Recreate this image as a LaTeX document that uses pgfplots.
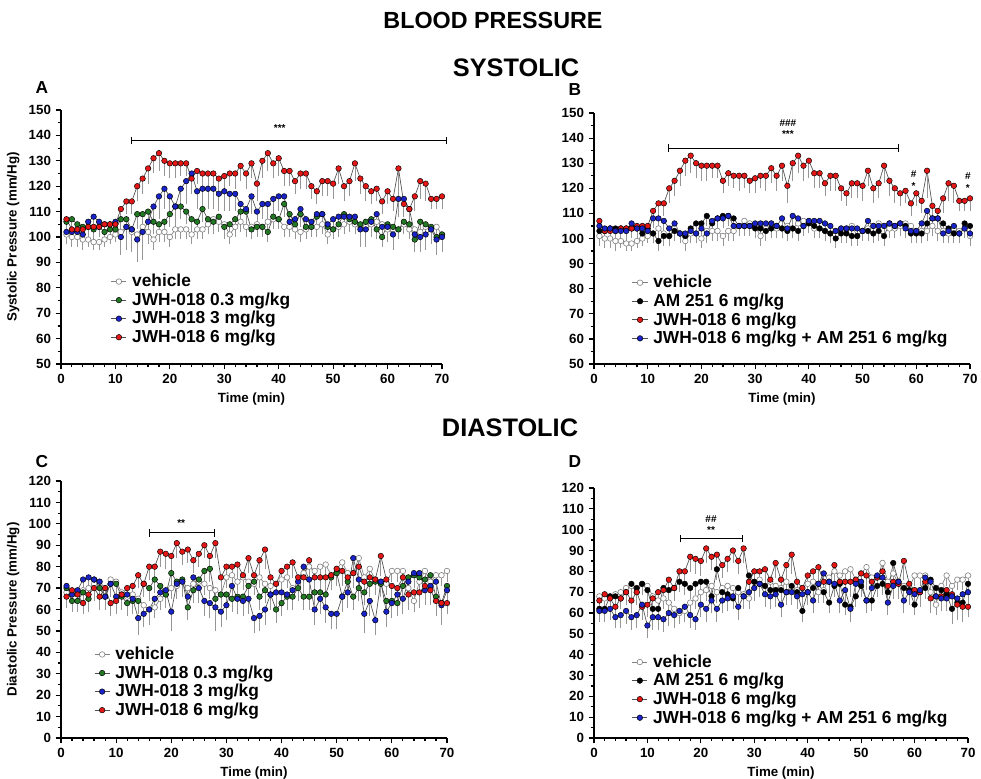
\documentclass[border=0pt]{standalone}
\usepackage{fontspec}
\setmainfont{Liberation Sans}
\usepackage{pgfplots}
\usepackage{pgfplotstable}
\pgfplotsset{compat=1.18}

% systolic: vehicle, JWH-018 0.3 / 3 / 6 mg/kg (mean, SEM)
\pgfplotstableread{
t v ev g eg b eb r er
1 101 3 106 3 102 4 107 4
2 100 3 107 3 102 4 103 3
3 100 3 105 3 102 3 103 3
4 99 3 104 4 101 5 103 3
5 99 2 104 3 106 3 104 3
6 98 2 103 3 108 3 104 3
7 98 2 104 3 106 3 104 3
8 99 2 102 3 105 3 105 3
9 100 2 103 3 105 3 105 3
10 101 2 103 3 106 4 105 3
11 102 3 107 4 100 6 111 4
12 104 3 107 4 104 8 114 4
13 102 3 103 4 103 8 114 4
14 101 3 109 5 99 8 120 5
15 104 3 109 5 102 10 123 5
16 102 3 110 5 106 8 127 5
17 99 3 106 4 112 8 131 5
18 102 3 105 4 116 8 133 6
19 102 3 106 4 119 7 130 5
20 100 3 109 4 116 8 129 5
21 103 3 112 4 112 7 129 5
22 103 3 112 4 119 6 129 4
23 103 3 110 4 122 8 129 4
24 101 3 107 4 125 7 123 4
25 103 3 106 4 118 6 126 4
26 103 3 111 4 119 7 125 4
27 105 3 107 4 119 7 125 5
28 107 3 106 4 119 7 125 4
29 106 3 108 4 117 6 123 4
30 105 3 104 4 118 7 124 5
31 101 3 105 4 117 6 125 4
32 104 3 107 4 117 6 125 5
33 106 3 110 4 113 5 128 5
34 104 3 110 4 111 5 125 5
35 104 3 103 3 116 6 129 5
36 105 3 104 3 110 5 121 6
37 104 3 104 3 113 5 130 6
38 106 3 102 3 113 5 133 6
39 107 3 108 3 115 5 129 5
40 107 3 107 3 116 5 131 6
41 104 3 113 4 116 5 126 5
42 104 3 109 4 106 4 126 5
43 103 3 105 3 107 4 122 4
44 102 3 109 4 111 5 125 5
45 103 3 104 3 107 4 125 5
46 104 3 104 3 106 4 120 4
47 104 3 108 3 109 4 118 4
48 105 3 109 3 109 4 122 5
49 101 3 104 3 105 4 122 5
50 103 3 103 3 107 4 121 5
51 104 3 105 3 108 4 127 5
52 105 3 109 3 108 4 120 5
53 106 3 107 3 108 4 122 5
54 105 3 106 3 108 4 129 6
55 104 3 105 3 103 6 123 5
56 104 3 106 3 103 6 120 5
57 105 3 107 3 106 5 118 4
58 106 3 103 3 109 5 119 4
59 105 3 100 3 104 5 114 4
60 103 3 105 3 104 5 118 4
61 103 3 104 3 101 5 115 4
62 103 3 103 3 115 6 127 10
63 105 3 106 4 115 6 113 4
64 103 3 105 4 111 5 111 4
65 103 3 99 4 101 5 116 5
66 102 3 106 4 100 5 122 6
67 104 3 105 4 101 5 121 6
68 103 3 104 4 103 5 115 3
69 104 3 100 4 99 5 115 3
70 101 3 101 4 100 5 116 4
}\sysA

% systolic: AM 251 alone, JWH-018 + AM 251
\pgfplotstableread{
t k ek c ec
1 103 3 105 3
2 103 3 104 3
3 104 3 104 3
4 104 3 103 3
5 104 3 103 3
6 104 3 103 3
7 104 3 106 3
8 104 3 104 3
9 102 3 104 3
10 104 3 103 3
11 102 3 108 3
12 99 3 108 3
13 101 3 107 3
14 101 3 104 3
15 103 3 106 3
16 102 3 102 3
17 101 4 102 4
18 104 3 103 3
19 106 3 102 3
20 106 3 104 3
21 109 3 102 3
22 106 3 107 3
23 108 3 108 3
24 109 3 108 3
25 109 3 109 3
26 108 3 105 3
27 105 3 105 3
28 105 3 105 3
29 105 3 105 3
30 104 3 106 3
31 104 3 106 3
32 103 3 106 3
33 104 3 106 3
34 105 3 105 3
35 104 3 108 3
36 103 3 104 3
37 104 3 109 3
38 103 3 108 3
39 105 3 105 3
40 106 3 107 3
41 105 3 107 3
42 104 3 107 3
43 103 3 106 3
44 102 3 105 3
45 100 3 103 3
46 102 3 104 3
47 102 3 104 3
48 101 3 104 3
49 101 3 104 3
50 103 3 103 3
51 103 3 107 3
52 102 3 105 3
53 103 3 105 3
54 101 3 105 3
55 106 3 106 3
56 105 3 105 3
57 106 3 106 3
58 105 3 104 3
59 102 3 103 3
60 102 3 103 3
61 102 3 106 4
62 106 3 111 4
63 108 3 108 4
64 108 3 108 3
65 106 3 102 3
66 104 3 103 3
67 102 3 105 3
68 102 3 102 3
69 106 3 104 3
70 105 3 102 3
}\sysB

% diastolic: vehicle, JWH-018 0.3 / 3 / 6 mg/kg
\pgfplotstableread{
t v ev g eg b eb r er
1 68 4 70 5 71 4 66 4
2 67 4 64 4 67 4 69 4
3 68 4 64 4 69 4 67 4
4 69 4 68 4 74 5 63 4
5 70 4 65 5 75 5 67 4
6 72 4 74 5 74 5 70 5
7 73 4 70 5 73 5 66 5
8 70 4 66 5 66 5 70 5
9 74 4 72 5 72 5 63 5
10 73 4 72 5 66 6 64 5
11 68 4 66 5 67 6 67 5
12 66 4 63 5 67 6 70 5
13 67 4 64 5 65 6 71 5
14 65 4 64 5 56 7 76 5
15 62 4 72 5 58 5 72 5
16 60 4 70 5 60 6 80 5
17 61 4 74 5 65 6 80 6
18 65 4 71 5 68 7 87 6
19 67 4 67 5 69 6 86 6
20 70 4 77 5 59 8 85 6
21 71 4 73 5 72 6 91 6
22 73 4 74 5 73 6 87 5
23 70 4 61 5 66 6 88 5
24 72 4 69 5 75 6 83 5
25 73 4 74 5 70 6 86 5
26 72 4 78 5 64 6 90 5
27 70 4 79 5 63 6 85 5
28 69 4 65 5 61 10 91 6
29 67 4 67 5 59 6 75 6
30 75 4 67 5 62 6 80 6
31 76 4 65 5 71 7 80 6
32 73 4 66 5 65 6 81 6
33 75 4 66 5 64 6 76 6
34 73 4 71 5 65 6 84 6
35 72 4 73 5 56 6 76 6
36 75 4 66 5 57 6 83 6
37 72 4 69 5 60 6 88 8
38 71 4 67 5 67 6 75 6
39 72 4 60 5 68 6 72 6
40 74 4 63 5 68 6 78 6
41 75 4 66 5 67 6 80 6
42 70 4 66 5 69 6 82 6
43 71 4 70 5 73 6 75 6
44 77 4 66 5 80 6 75 6
45 80 4 66 5 74 6 83 6
46 78 4 68 5 60 6 75 6
47 80 4 68 5 65 6 75 6
48 81 4 67 5 61 6 75 6
49 76 4 75 5 58 6 76 6
50 79 4 77 5 58 6 79 6
51 82 4 66 5 66 6 78 6
52 77 4 73 5 68 6 75 6
53 77 4 66 5 84 6 77 6
54 84 4 70 5 74 6 80 6
55 75 4 68 5 58 8 73 6
56 79 4 72 5 64 6 75 6
57 74 4 73 5 55 6 74 6
58 73 4 72 5 73 6 85 8
59 72 4 64 5 59 6 74 6
60 78 4 64 5 63 6 71 6
61 78 4 63 5 67 6 70 6
62 78 4 71 5 65 6 75 6
63 70 4 75 5 73 6 67 6
64 64 4 76 5 77 6 68 6
65 73 4 75 5 77 6 68 6
66 78 4 74 5 69 6 71 6
67 73 4 76 5 71 6 69 6
68 76 4 66 5 73 6 64 6
69 76 4 63 5 62 8 63 6
70 78 4 71 5 69 6 63 4
}\diaC

% diastolic: AM 251 alone, JWH-018 + AM 251
\pgfplotstableread{
t k ek c ec
1 62 4 61 4
2 62 4 61 4
3 68 4 62 4
4 68 4 58 4
5 67 4 59 5
6 70 4 61 5
7 74 4 58 5
8 72 4 59 5
9 74 4 64 5
10 71 4 54 5
11 62 4 58 5
12 62 4 58 5
13 72 4 57 5
14 71 4 60 5
15 72 4 59 5
16 75 4 61 5
17 74 4 63 5
18 72 4 59 5
19 74 4 57 4
20 75 4 64 5
21 75 4 62 5
22 68 4 66 5
23 81 4 62 5
24 70 4 66 5
25 69 4 67 5
26 67 4 68 5
27 72 4 63 5
28 68 4 68 5
29 78 4 70 5
30 75 4 72 5
31 74 4 74 5
32 73 4 69 5
33 71 4 68 5
34 71 4 69 5
35 71 4 64 5
36 70 4 70 5
37 73 4 70 5
38 70 4 68 5
39 61 4 69 5
40 70 4 70 5
41 72 4 66 5
42 74 4 74 5
43 70 4 79 5
44 65 4 75 5
45 73 4 74 5
46 74 4 66 5
47 64 4 71 5
48 63 4 62 5
49 68 4 74 5
50 73 4 75 5
51 66 4 66 5
52 66 4 72 5
53 73 4 78 5
54 74 4 77 5
55 70 4 65 5
56 84 4 73 5
57 75 4 75 5
58 72 4 66 5
59 71 4 70 5
60 64 4 69 5
61 70 4 71 5
62 72 4 77 5
63 76 4 75 5
64 72 4 68 5
65 71 4 67 5
66 69 4 67 5
67 62 6 68 5
68 65 4 67 5
69 65 4 69 5
70 74 4 70 5
}\diaD

\definecolor{cred}{RGB}{228,22,22}
\definecolor{cblue}{RGB}{25,35,200}
\definecolor{cgreen}{RGB}{35,120,35}
\definecolor{cline}{RGB}{80,80,80}
\definecolor{cerr}{RGB}{150,150,150}

\tikzset{sigtxt/.style={font=\bfseries\fontsize{7.5}{8}\selectfont, inner sep=0pt}}

\pgfplotsset{
  legend image code/.code={\draw[mark repeat=2,mark phase=2,#1] plot coordinates {(0cm,0cm) (0.2cm,0cm) (0.4cm,0cm)};},
  ser/.style={draw=cline, line width=0.5pt, mark=*, mark size=2.1pt,
    mark options={draw=black, fill=#1, line width=0.35pt},
    error bars/.cd, y dir=minus, y explicit,
    error bar style={draw=cerr, line width=0.6pt},
    error mark options={draw=cerr, line width=0.6pt, mark size=1.8pt}},
  veh/.style={draw=gray, line width=0.5pt, mark=*, mark size=2.1pt,
    mark options={draw=gray, fill=white, line width=0.45pt},
    error bars/.cd, y dir=minus, y explicit,
    error bar style={draw=cerr, line width=0.6pt},
    error mark options={draw=cerr, line width=0.6pt, mark size=1.8pt}},
  bp/.style={scale only axis, clip=false, xmin=0, xmax=70, xtick={0,10,...,70},
    minor x tick num=4, minor y tick num=1,
    axis x line*=bottom, axis y line*=left, tick align=outside,
    axis line style={line width=1.1pt},
    every tick/.style={black, line width=0.9pt},
    major tick length=4pt, minor tick length=2.5pt,
    /pgf/number format/assume math mode=true,
    ticklabel style={font=\bfseries\fontsize{10}{12}\selectfont},
    label style={font=\bfseries\fontsize{10}{12}\selectfont},
    xlabel={Time (min)},
    legend cell align=left,
    legend style={draw=none, fill=none, anchor=north west,
      font=\bfseries\fontsize{13}{14}\selectfont, row sep=1pt, column sep=3pt,
      nodes={inner sep=1pt}}},
}

\begin{document}
\begin{tikzpicture}
\path[use as bounding box] (0,0) rectangle (735.75pt,-583.5pt);
\node[font=\bfseries\fontsize{17.5}{20}\selectfont] at (369.75pt,-15pt) {BLOOD PRESSURE};
\node[font=\bfseries\fontsize{19}{21}\selectfont] at (387pt,-51pt) {SYSTOLIC};
\node[font=\bfseries\fontsize{19}{21}\selectfont] at (382.5pt,-321pt) {DIASTOLIC};
\node[font=\bfseries\fontsize{13}{14}\selectfont] at (31.5pt,-66pt) {A};
\node[font=\bfseries\fontsize{13}{14}\selectfont] at (431.25pt,-67.5pt) {B};
\node[font=\bfseries\fontsize{13}{14}\selectfont] at (31.5pt,-346.5pt) {C};
\node[font=\bfseries\fontsize{13}{14}\selectfont] at (431.25pt,-346.5pt) {D};

% A
\begin{axis}[bp, at={(45.75pt,-273pt)}, anchor=south west,
  width=285.75pt, height=190.5pt, ymin=50, ymax=150, ytick={50,60,...,150},
  ylabel={Systolic Pressure (mm/Hg)},
  legend style={at={(0.12,0.37)}}]
\addplot[veh] table[x=t, y=v, y error=ev] {\sysA};
\addplot[ser=cgreen] table[x=t, y=g, y error=eg] {\sysA};
\addplot[ser=cblue] table[x=t, y=b, y error=eb] {\sysA};
\addplot[ser=cred] table[x=t, y=r, y error=er] {\sysA};
\legend{vehicle, JWH-018 0.3 mg/kg, JWH-018 3 mg/kg, JWH-018 6 mg/kg}
\draw[line width=0.7pt] (13,138) -- (70.8,138);
\draw[line width=0.7pt] (13,136.5) -- (13,139.5) (70.8,136.5) -- (70.8,139.5);
\node[sigtxt] at (40.2,142.8) {***};
\end{axis}

% B
\begin{axis}[bp, at={(445.5pt,-273pt)}, anchor=south west,
  width=282pt, height=188.25pt, ymin=50, ymax=150, ytick={50,60,...,150},
  legend style={at={(0.09,0.37)}}]
\addplot[veh] table[x=t, y=v, y error=ev] {\sysA};
\addplot[ser=black] table[x=t, y=k, y error=ek] {\sysB};
\addplot[ser=cred] table[x=t, y=r, y error=er] {\sysA};
\addplot[ser=cblue] table[x=t, y=c, y error=ec] {\sysB};
\legend{vehicle, AM 251 6 mg/kg, JWH-018 6 mg/kg, JWH-018 6 mg/kg + AM 251 6 mg/kg}
\draw[line width=0.7pt] (13.9,136) -- (56.7,136);
\draw[line width=0.7pt] (13.9,134.5) -- (13.9,137.5) (56.7,134.5) -- (56.7,137.5);
\node[sigtxt] at (36.1,141.8) {***};
\node[sigtxt] at (36.1,146) {\#\#\#};
\node[sigtxt] at (59.5,125.6) {\#};
\node[sigtxt] at (59.5,120.8) {*};
\node[sigtxt] at (69.6,124.8) {\#};
\node[sigtxt] at (69.6,120) {*};
\end{axis}

% C
\begin{axis}[bp, at={(45.75pt,-553.5pt)}, anchor=south west,
  width=289.5pt, height=192.75pt, ymin=0, ymax=120, ytick={0,10,...,120},
  ylabel={Diastolic Pressure (mm/Hg)},
  legend style={at={(0.075,0.37)}}]
\addplot[veh] table[x=t, y=v, y error=ev] {\diaC};
\addplot[ser=cgreen] table[x=t, y=g, y error=eg] {\diaC};
\addplot[ser=cblue] table[x=t, y=b, y error=eb] {\diaC};
\addplot[ser=cred] table[x=t, y=r, y error=er] {\diaC};
\legend{vehicle, JWH-018 0.3 mg/kg, JWH-018 3 mg/kg, JWH-018 6 mg/kg}
\draw[line width=0.7pt] (16,95.8) -- (27.9,95.8);
\draw[line width=0.7pt] (16,94) -- (16,97.6) (27.9,94) -- (27.9,97.6);
\node[sigtxt] at (21.8,100.3) {**};
\end{axis}

% D
\begin{axis}[bp, at={(445.5pt,-553.5pt)}, anchor=south west,
  width=280.5pt, height=187.5pt, ymin=0, ymax=120, ytick={0,10,...,120},
  legend style={at={(0.09,0.35)}}]
\addplot[veh] table[x=t, y=v, y error=ev] {\diaC};
\addplot[ser=black] table[x=t, y=k, y error=ek] {\diaD};
\addplot[ser=cred] table[x=t, y=r, y error=er] {\diaC};
\addplot[ser=cblue] table[x=t, y=c, y error=ec] {\diaD};
\legend{vehicle, AM 251 6 mg/kg, JWH-018 6 mg/kg, JWH-018 6 mg/kg + AM 251 6 mg/kg}
\draw[line width=0.7pt] (16.1,95.7) -- (27.8,95.7);
\draw[line width=0.7pt] (16.1,93.9) -- (16.1,97.5) (27.8,93.9) -- (27.8,97.5);
\node[sigtxt] at (21.9,100) {**};
\node[sigtxt] at (21.9,105) {\#\#};
\end{axis}
\end{tikzpicture}
\end{document}
